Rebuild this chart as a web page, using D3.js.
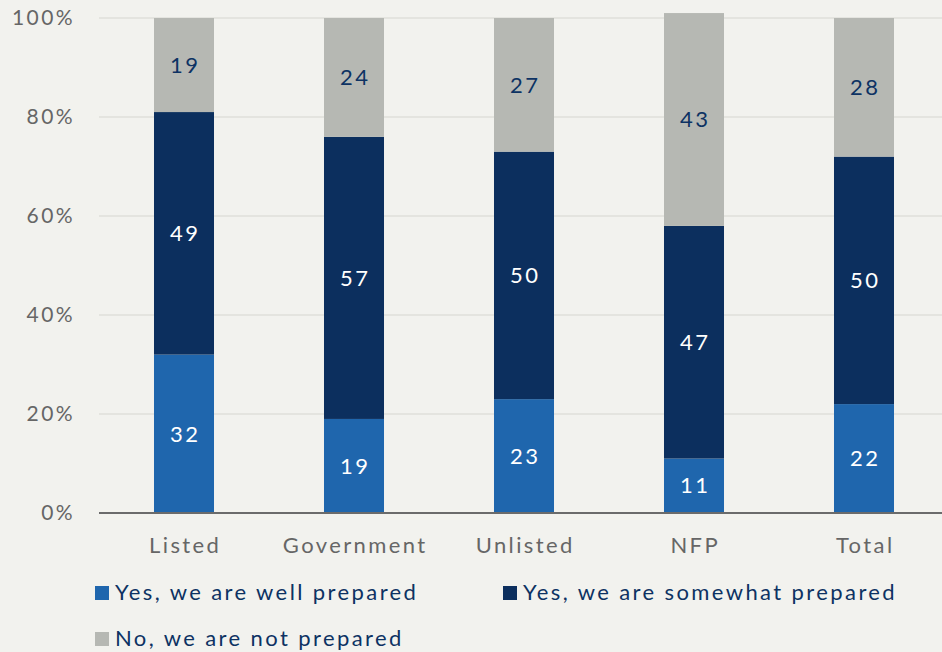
<!DOCTYPE html>
<html>
<head>
<meta charset="utf-8">
<script src="https://cdn.jsdelivr.net/npm/d3@7"></script>
<style>
  html, body { margin: 0; padding: 0; background: #f2f2ee; }
  svg { display: block; font-family: Lato, "Open Sans", sans-serif; }
  svg text { letter-spacing: 2.4px; }
</style>
</head>
<body>
<svg id="chart" width="942" height="652"></svg>
<script>
const categories = ["Listed", "Government", "Unlisted", "NFP", "Total"];
const wellPrepared = [32, 19, 23, 11, 22];
const somewhatPrepared = [49, 57, 50, 47, 50];
const notPrepared = [19, 24, 27, 43, 28];
const seriesNames = ["Yes, we are well prepared", "Yes, we are somewhat prepared", "No, we are not prepared"];
const seriesColors = ["#1f66ad", "#0c2f5e", "#b6b8b3"];
const labelColors = ["#ffffff", "#ffffff", "#0d3263"];
const yTicks = [0, 20, 40, 60, 80, 100];

const svg = d3.select("#chart");
const margin = { left: 99, right: -7, top: 18, bottom: 139 };
const W = 942, H = 652;
const LS = 2.4; // letter spacing, compensated on centred text

const x = d3.scaleBand()
  .domain(categories)
  .range([margin.left, W - margin.right])
  .paddingInner(0.647)
  .paddingOuter(0.3235);

const y = d3.scaleLinear()
  .domain([0, 100])
  .range([H - margin.bottom, margin.top]);

// gridlines
svg.append("g")
  .selectAll("line")
  .data(yTicks.slice(1))
  .join("line")
  .attr("x1", margin.left).attr("x2", W)
  .attr("y1", d => y(d)).attr("y2", d => y(d))
  .attr("stroke", "#e4e4df").attr("stroke-width", 2);

// y axis labels
const yAxis = d3.axisLeft(y).tickValues(yTicks).tickFormat(d => d + "%").tickSize(0).tickPadding(0);
const yg = svg.append("g").attr("transform", `translate(${margin.left - 24},0)`).call(yAxis);
yg.select(".domain").remove();
yg.selectAll("text").attr("fill", "#666666").attr("font-size", 21).attr("font-family", "Lato, sans-serif");

// stacked data
const rows = categories.map((c, i) => ({ cat: c, v: [wellPrepared[i], somewhatPrepared[i], notPrepared[i]] }));
const stack = d3.stack().keys([0, 1, 2]).value((d, k) => d.v[k]);
const layers = stack(rows);

const gBars = svg.append("g");
layers.forEach((layer, k) => {
  const g = gBars.append("g");
  g.selectAll("rect")
    .data(layer)
    .join("rect")
    .attr("x", d => x(d.data.cat))
    .attr("width", x.bandwidth())
    .attr("y", d => y(d[1]))
    .attr("height", d => y(d[0]) - y(d[1]))
    .attr("fill", seriesColors[k]);
  g.selectAll("text")
    .data(layer)
    .join("text")
    .attr("x", d => x(d.data.cat) + x.bandwidth() / 2 + LS / 2)
    .attr("y", d => y((d[0] + d[1]) / 2))
    .attr("dy", "0.35em")
    .attr("text-anchor", "middle")
    .attr("font-size", 22)
    .attr("fill", labelColors[k])
    .text(d => d.data.v[k]);
});

// x axis
const xAxis = d3.axisBottom(x).tickSize(0).tickPadding(24);
const xg = svg.append("g").attr("transform", `translate(0,${y(0)})`).call(xAxis);
xg.select(".domain").attr("d", `M${margin.left},0H${W}`).attr("stroke", "#6b6b6b").attr("stroke-width", 2);
xg.selectAll("text").attr("fill", "#666666").attr("font-size", 22).attr("font-family", "Lato, sans-serif")
  .attr("dx", LS / 2);

// legend
const legendPos = [[95, 586], [503, 586], [95, 632]];
const lg = svg.append("g");
seriesNames.forEach((name, k) => {
  const [lx, ly] = legendPos[k];
  lg.append("rect").attr("x", lx).attr("y", ly).attr("width", 14).attr("height", 14).attr("fill", seriesColors[k]);
  lg.append("text").attr("x", lx + 20).attr("y", ly + 6).attr("dy", "0.35em")
    .attr("font-size", 22).attr("fill", "#0d3263").text(name);
});
</script>
</body>
</html>
